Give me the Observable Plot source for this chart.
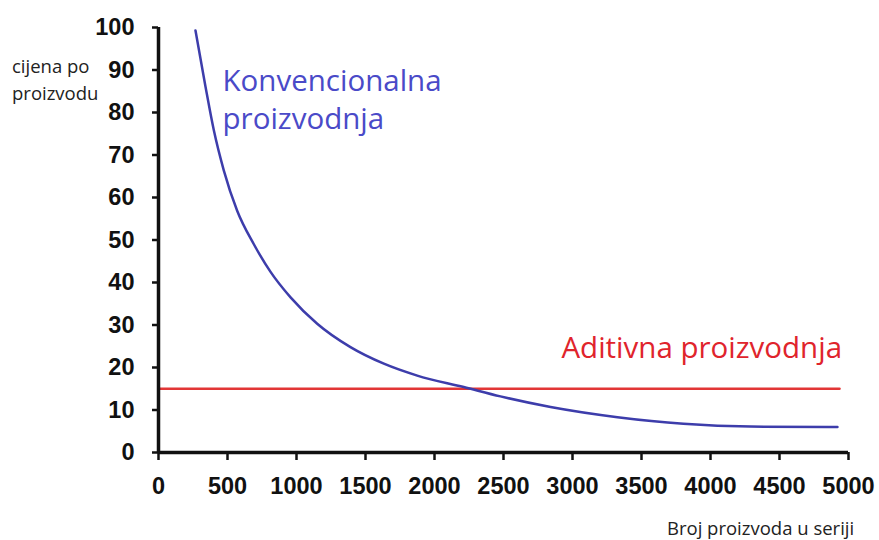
<!DOCTYPE html>
<html>
<head>
<meta charset="utf-8">
<script src="https://cdn.jsdelivr.net/npm/d3@7"></script>
<script src="https://cdn.jsdelivr.net/npm/@observablehq/plot@0.6"></script>
<style>
  html, body { margin: 0; padding: 0; background: #fff; }
  #wrap { position: relative; width: 879px; height: 540px; overflow: hidden; }
  .lab { position: absolute; font-family: "Open Sans", "Noto Sans", sans-serif; color: #222; white-space: nowrap; }
</style>
</head>
<body>
<div id="wrap">
  <div class="lab" style="left:12px; top:52px; font-size:18.5px; line-height:27px;">cijena po<br>proizvodu</div>
  <div class="lab" style="left:667px; top:517px; font-size:18.5px; line-height:22px;">Broj proizvoda u seriji</div>
</div>
<script>
// Konvencionalna proizvodnja (blue curve)
const convX = [268, 341, 401, 473, 570, 691, 812, 957, 1150, 1391, 1633, 1875, 2212, 2478, 2841, 3326, 3804, 4290, 4920];
const convY = [99.3, 86.0, 75.8, 66.4, 56.9, 49.0, 42.5, 36.5, 30.3, 24.8, 20.9, 18.1, 15.4, 13.2, 10.7, 8.3, 6.75, 6.1, 6.0];

// Aditivna proizvodnja (red flat line)
const addX = [0, 4935];
const addY = [15, 15];

// tick values
const xTicks = [0, 500, 1000, 1500, 2000, 2500, 3000, 3500, 4000, 4500, 5000];
const yTicks = [0, 10, 20, 30, 40, 50, 60, 70, 80, 90, 100];

// in-chart series labels
const labelText = ["Konvencionalna\nproizvodnja", "Aditivna proizvodnja"];
const labelX = [464, 2920];
const labelY = [91.5, 28.7];
const labelColor = ["#4a4ac8", "#e0242c"];

const conv = convX.map((x, i) => ({x, y: convY[i]}));
const add = addX.map((x, i) => ({x, y: addY[i]}));
const labels = labelText.map((t, i) => ({t, x: labelX[i], y: labelY[i], c: labelColor[i]}));

const chart = Plot.plot({
  width: 879,
  height: 540,
  marginLeft: 158,
  marginRight: 31,
  marginTop: 27,
  marginBottom: 88,
  style: {fontFamily: "'Liberation Sans', Arial, sans-serif", fontSize: "23.5px", fontWeight: "bold", color: "#111", background: "transparent"},
  x: {domain: [0, 5000]},
  y: {domain: [0, 100]},
  marks: [
    Plot.axisX({ticks: xTicks, tickSize: 8, tickPadding: 17, tickFormat: d => String(d), label: null, strokeWidth: 2.5, fill: "#111"}),
    Plot.axisY({ticks: yTicks, tickSize: 6, tickPadding: 18, tickFormat: d => String(d), label: null, strokeWidth: 2.5, fill: "#111"}),
    Plot.line(add, {x: "x", y: "y", stroke: "#e23636", strokeWidth: 2.5}),
    Plot.line(conv, {x: "x", y: "y", stroke: "#3d3dab", strokeWidth: 2.5, curve: "monotone-x"}),
    Plot.ruleX([0], {stroke: "#111", strokeWidth: 3.5, y1: 0, y2: 100}),
    Plot.ruleY([0], {stroke: "#111", strokeWidth: 3.5}),
    Plot.text(labels, {x: "x", y: "y", text: "t", fill: "c", textAnchor: "start", lineAnchor: "top",
      fontFamily: "'Open Sans', 'Noto Sans', sans-serif", fontSize: 29.5, fontWeight: "normal", lineHeight: 1.29})
  ]
});
document.getElementById("wrap").prepend(chart);
chart.style.position = "absolute";
chart.style.left = "0px";
chart.style.top = "0px";
</script>
</body>
</html>
